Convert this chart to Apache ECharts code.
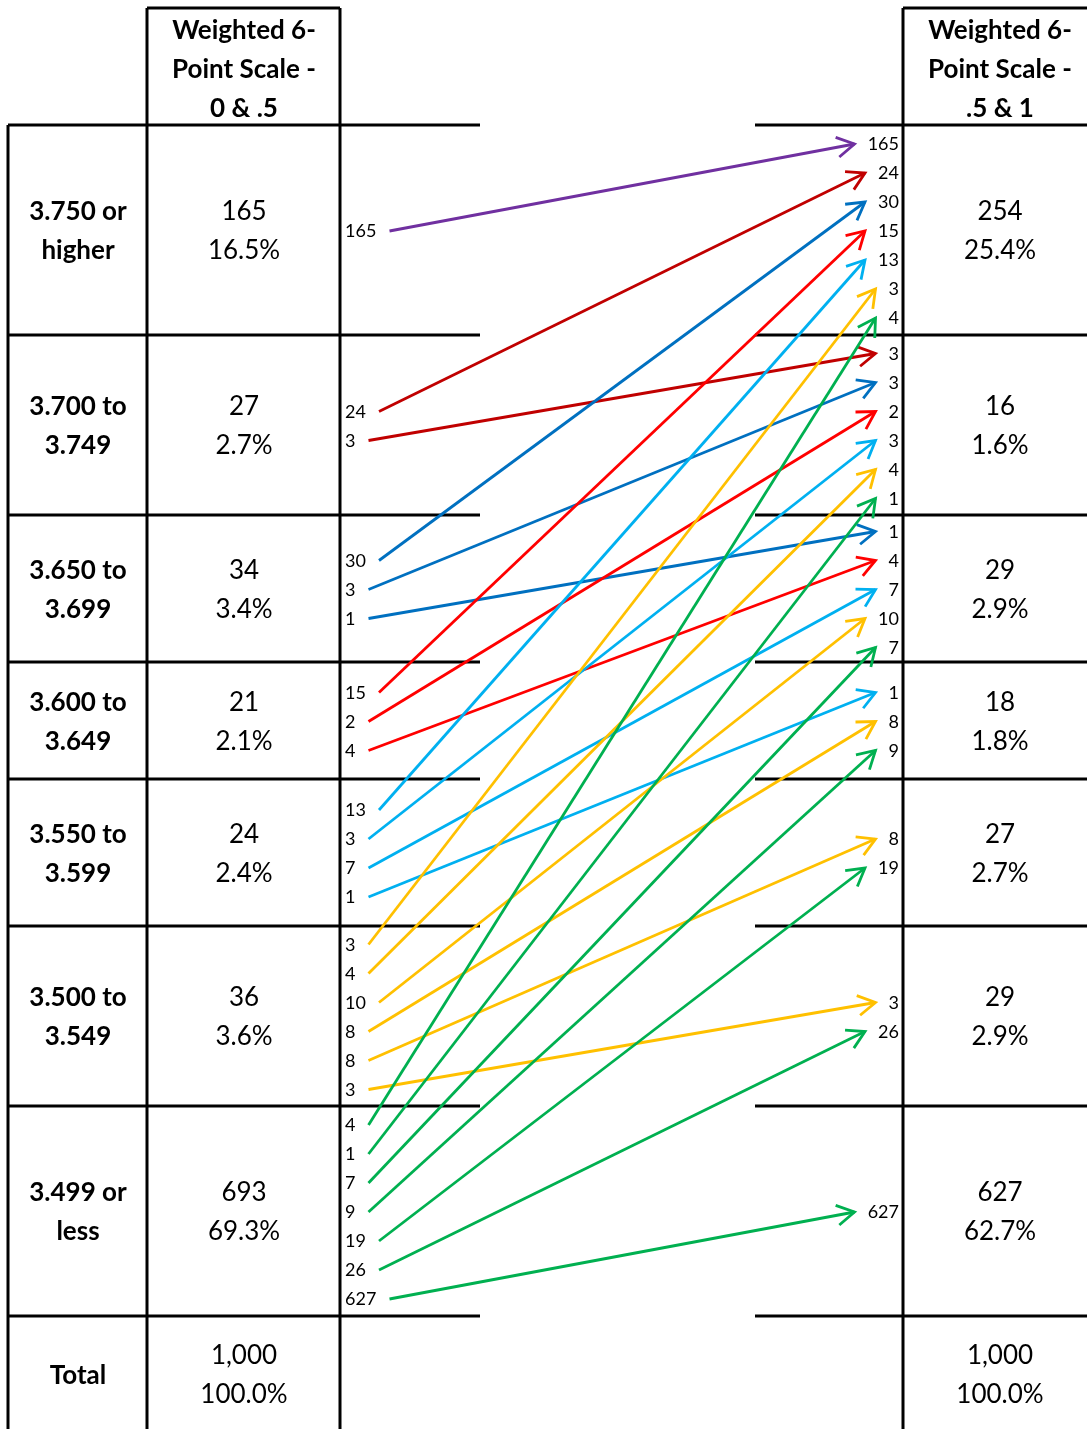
<!DOCTYPE html>
<html>
<head>
<meta charset="utf-8">
<script src="https://cdn.jsdelivr.net/npm/echarts@6/dist/echarts.min.js"></script>
<style>
  html, body { margin: 0; padding: 0; background: #fff; }
  #chart { width: 1087px; height: 1429px; }
</style>
</head>
<body>
<div id="chart"></div>
<script>
// ---- data ----
// GPA bands, top to bottom
const bandLabels = ['3.750 or\nhigher', '3.700 to\n3.749', '3.650 to\n3.699', '3.600 to\n3.649',
                    '3.550 to\n3.599', '3.500 to\n3.549', '3.499 or\nless'];
const totalLabel = 'Total';
const leftHeader = 'Weighted 6-\nPoint Scale -\n0 & .5';
const rightHeader = 'Weighted 6-\nPoint Scale -\n.5 & 1';
// students per band under each scale
const leftCounts = [165, 27, 34, 21, 24, 36, 693];
const rightCounts = [254, 16, 29, 18, 27, 29, 627];
const totalCount = 1000;
// band movements: source band index, destination band index, students
const flowFrom  = [0, 1, 1, 2, 2, 2, 3, 3, 3, 4, 4, 4, 4, 5, 5, 5, 5, 5, 5, 6, 6, 6, 6, 6, 6, 6];
const flowTo    = [0, 0, 1, 0, 1, 2, 0, 1, 2, 0, 1, 2, 3, 0, 1, 2, 3, 4, 5, 0, 1, 2, 3, 4, 5, 6];
const flowCount = [165, 24, 3, 30, 3, 1, 15, 2, 4, 13, 3, 7, 1, 3, 4, 10, 8, 8, 3, 4, 1, 7, 9, 19, 26, 627];

// ---- styles & layout ----
const bandColors = ['#7030A0', '#C00000', '#0070C0', '#FF0000', '#00B0F0', '#FFC000', '#00B050'];
const W = 1087, H = 1429;
const FONT = 'Lato';
const rowEdges = [125, 335, 515, 662, 779, 926, 1106, 1316, 1432];
const colX = { outer: 8, mid: 147, leftEnd: 340, rightStart: 903 };
const cellCenterL = 244, cellCenterR = 1000, labelCenter = 78;
const lineGap = 39;            // line spacing inside table cells
const slotGap = 29;            // spacing of flow labels
const textNudge = 1.5;         // baseline nudge for table text
const leftLabelX = 345, rightLabelX = 899;
const digitW = 10.5, arrowGap = 13;

const rowMid = i => (rowEdges[i] + rowEdges[i + 1]) / 2;
const slotY = (row, k, n) => rowMid(row) + (k - (n - 1) / 2) * slotGap;
const pct = n => (n / totalCount * 100).toFixed(1) + '%';
const fmt = n => n.toLocaleString('en-US');

// table text cells
const cells = [];
function addCell(x, y, text, bold, size, align) {
  cells.push({ value: [x, y + textNudge], text, bold, size, align: align || 'center' });
}
addCell(cellCenterL, 68, leftHeader, true, 26);
addCell(cellCenterR, 68, rightHeader, true, 26);
bandLabels.forEach((lab, i) => {
  addCell(labelCenter, rowMid(i), lab, true, 26);
  addCell(cellCenterL, rowMid(i), leftCounts[i] + '\n' + pct(leftCounts[i]), false, 26);
  addCell(cellCenterR, rowMid(i), rightCounts[i] + '\n' + pct(rightCounts[i]), false, 26);
});
addCell(labelCenter, rowMid(7), totalLabel, true, 26);
addCell(cellCenterL, rowMid(7), fmt(totalCount) + '\n100.0%', false, 26);
addCell(cellCenterR, rowMid(7), fmt(totalCount) + '\n100.0%', false, 26);

// flow labels and arrows
const arrows = [];
flowCount.forEach((n, i) => {
  const src = flowFrom[i], dst = flowTo[i];
  const leftSlots = flowFrom.map((f, j) => j).filter(j => flowFrom[j] === src);
  const rightSlots = flowTo.map((f, j) => j).filter(j => flowTo[j] === dst);
  const yl = slotY(src, leftSlots.indexOf(i), leftSlots.length);
  const yr = slotY(dst, rightSlots.indexOf(i), rightSlots.length);
  const w = String(n).length * digitW;
  addCell(leftLabelX, yl, String(n), false, 18, 'left');
  addCell(rightLabelX, yr, String(n), false, 18, 'right');
  arrows.push({
    value: [leftLabelX + w + arrowGap, yl + 1, rightLabelX - w - arrowGap, yr + 1, n],
    itemStyle: { color: bandColors[src] }
  });
});

// table rules
const rules = [];
const hLine = (x1, x2, y) => rules.push({ type: 'line', shape: { x1, y1: y, x2, y2: y } });
const vLine = (x, y1, y2) => rules.push({ type: 'line', shape: { x1: x, y1, x2: x, y2 } });
hLine(colX.mid, colX.leftEnd, 8);
hLine(colX.rightStart, W, 8);
rowEdges.slice(0, 8).forEach(y => { hLine(colX.outer, 480, y); hLine(755, W, y); });
vLine(colX.outer, 125, H + 5);
vLine(colX.mid, 8, H + 5);
vLine(colX.leftEnd, 8, H + 5);
vLine(colX.rightStart, 8, H + 5);
rules.forEach(r => { r.style = { stroke: '#000', lineWidth: 3 }; r.silent = true; });

const chart = echarts.init(document.getElementById('chart'), null, { renderer: 'canvas' });
chart.setOption({
  animation: false,
  backgroundColor: '#fff',
  grid: { left: 0, right: 0, top: 0, bottom: 0 },
  xAxis: { type: 'value', min: 0, max: W, show: false },
  yAxis: { type: 'value', min: 0, max: H, inverse: true, show: false },
  graphic: rules,
  series: [
    {
      type: 'custom',
      name: 'moves',
      data: arrows,
      renderItem(params, api) {
        const a = api.coord([api.value(0), api.value(1)]);
        const b = api.coord([api.value(2), api.value(3)]);
        const color = api.visual('color');
        const ang = Math.atan2(b[1] - a[1], b[0] - a[0]);
        const L = 20, t = 30 * Math.PI / 180;
        const w1 = [b[0] - L * Math.cos(ang - t), b[1] - L * Math.sin(ang - t)];
        const w2 = [b[0] - L * Math.cos(ang + t), b[1] - L * Math.sin(ang + t)];
        return {
          type: 'group',
          children: [
            { type: 'line', shape: { x1: a[0], y1: a[1], x2: b[0], y2: b[1] },
              style: { stroke: color, lineWidth: 2.8 } },
            { type: 'polyline', shape: { points: [w1, b, w2] },
              style: { stroke: color, fill: null, lineWidth: 2.8 } }
          ]
        };
      }
    },
    {
      type: 'custom',
      name: 'cells',
      data: cells,
      renderItem(params, api) {
        const c = cells[params.dataIndex];
        const p = api.coord([api.value(0), api.value(1)]);
        return {
          type: 'text',
          x: p[0], y: p[1],
          style: {
            text: c.text,
            fill: '#000',
            font: (c.bold ? 'bold ' : '') + c.size + 'px ' + FONT,
            align: c.align, verticalAlign: 'middle',
            textAlign: c.align, textVerticalAlign: 'middle',
            lineHeight: lineGap
          }
        };
      }
    }
  ]
});
</script>
</body>
</html>
